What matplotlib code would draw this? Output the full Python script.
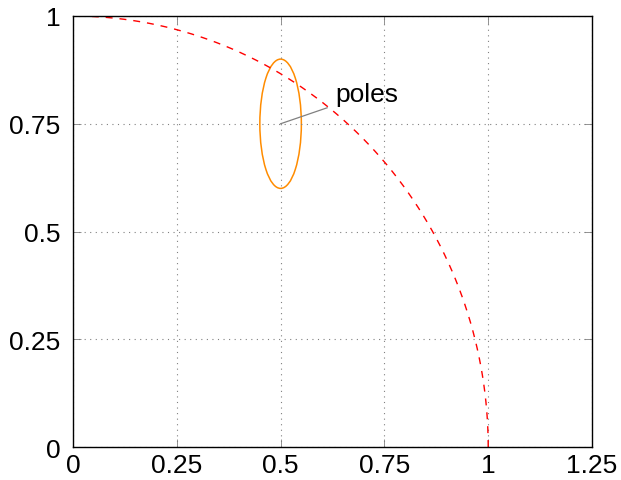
import numpy as np
import matplotlib
matplotlib.use("Agg")
import matplotlib.pyplot as plt
from matplotlib.patches import Ellipse

plt.rcParams['font.family'] = ['Liberation Sans', 'DejaVu Sans']

# dados
raio = 1.0
centro_polo = (0.5, 0.75)
largura_polo = 0.1
altura_polo = 0.3
ponta_seta = (0.612, 0.787)
pos_texto = (0.632, 0.82)
rotulo = "poles"
xticks = [0, 0.25, 0.5, 0.75, 1, 1.25]
xtick_labels = ["0", "0.25", "0.5", "0.75", "1", "1.25"]
yticks = [0, 0.25, 0.5, 0.75, 1]
ytick_labels = ["0", "0.25", "0.5", "0.75", "1"]

fig = plt.figure(figsize=(6.21, 4.81), dpi=100)
ax = fig.add_axes([73 / 621, 1 - 448 / 481, (592 - 73) / 621, (448 - 17) / 481])

t = np.linspace(0, np.pi / 2, 300)
ax.plot(raio * np.cos(t), raio * np.sin(t), color="red", linestyle=(0, (5, 5)), linewidth=1)

ax.add_patch(Ellipse(centro_polo, largura_polo, altura_polo, fill=False,
                     edgecolor="#ff8c00", linewidth=1.1))

ax.plot([centro_polo[0], ponta_seta[0]], [centro_polo[1], ponta_seta[1]],
        color="gray", linewidth=0.9)
ax.text(pos_texto[0], pos_texto[1], rotulo, fontsize=19, va="center", ha="left")

ax.set_xlim(0, 1.25)
ax.set_ylim(0, 1)
ax.set_xticks(xticks)
ax.set_xticklabels(xtick_labels)
ax.set_yticks(yticks)
ax.set_yticklabels(ytick_labels)
ax.tick_params(labelsize=19, direction="in", length=6, width=0.6, color="gray",
               top=True, right=True)
ax.tick_params(axis="x", pad=4)
ax.tick_params(axis="y", pad=9)
ax.grid(True, color="gray", linestyle=(0, (1, 4)), linewidth=0.8)
for s in ax.spines.values():
    s.set_linewidth(1)

fig.savefig("out.png", dpi=100)
